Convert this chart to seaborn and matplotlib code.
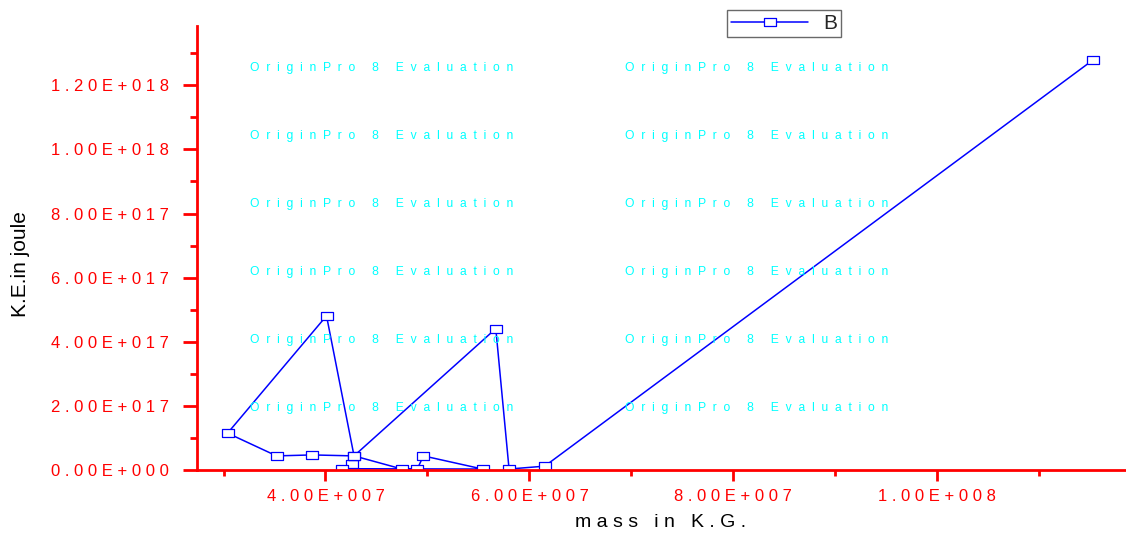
import matplotlib
matplotlib.use("Agg")
import matplotlib.pyplot as plt
import numpy as np
import pandas as pd
import seaborn as sns
from matplotlib.ticker import FuncFormatter, MultipleLocator


# points in the order they were joined in the original worksheet
MASS = [4.26e7, 4.16e7, 5.54e7, 4.96e7, 4.90e7, 4.75e7, 4.28e7, 3.87e7,
        3.52e7, 3.04e7, 4.01e7, 4.28e7, 5.67e7, 5.80e7, 6.15e7, 11.53e7]
KE = [0.19e17, 0.04e17, 0.03e17, 0.44e17, 0.03e17, 0.03e17, 0.44e17, 0.47e17,
      0.44e17, 1.15e17, 4.81e17, 0.44e17, 4.41e17, 0.03e17, 0.12e17, 12.80e17]
SERIES_NAME = "B"
X_LABEL = "m a s s   i n   K . G ."
Y_LABEL = "K.E.in joule"
WATERMARK = "O  r  i  g  i  n  P  r  o     8     E  v  a  l  u  a  t  i  o  n"

RED = "#FF0000"
BLUE = "#0000FF"
W, H = 1126, 539


def origin_sci(value: float, _: int) -> str:
    """Origin style scientific label, e.g. 1.20E+018, letter spaced."""
    if value == 0:
        text = "0.00E+000"
    else:
        exp = int(np.floor(np.log10(abs(value))))
        mant = value / 10 ** exp
        text = f"{mant:.2f}E{'+' if exp >= 0 else '-'}{abs(exp):03d}"
    return " ".join(text)


def main() -> None:
    sns.set_theme(style="white")
    plt.rcParams["font.family"] = ["Liberation Sans", "DejaVu Sans"]

    df = pd.DataFrame({"mass": MASS, "ke": KE})

    fig = plt.figure(figsize=(W / 100, H / 100), dpi=100)
    ax = fig.add_axes([197 / W, 1 - 470 / H, (1125 - 197) / W, (470 - 26) / H])

    for row in range(6):
        for col_x in (250, 625):
            fig.text(col_x / W, 1 - (68 + 68 * row) / H, WATERMARK,
                     color="#00FFFF", fontsize=8.7, va="center", ha="left", zorder=0)

    rect = [(-1, -0.6), (1, -0.6), (1, 0.6), (-1, 0.6), (-1, -0.6)]
    sns.lineplot(data=df, x="mass", y="ke", sort=False, estimator=None,
                 color=BLUE, linewidth=1.1, marker=rect, markersize=9,
                 markerfacecolor="white", markeredgecolor=BLUE,
                 markeredgewidth=0.9, label=SERIES_NAME, ax=ax)

    ax.set_xlim(2.74e7, 11.84e7)
    ax.set_ylim(0, 1.385e18)
    ax.patch.set_alpha(0)

    for side in ("top", "right"):
        ax.spines[side].set_visible(False)
    for side in ("left", "bottom"):
        ax.spines[side].set_color(RED)
        ax.spines[side].set_linewidth(2)

    ax.xaxis.set_major_locator(MultipleLocator(2e7))
    ax.xaxis.set_minor_locator(MultipleLocator(1e7))
    ax.yaxis.set_major_locator(MultipleLocator(2e17))
    ax.yaxis.set_minor_locator(MultipleLocator(1e17))
    ax.xaxis.set_major_formatter(FuncFormatter(origin_sci))
    ax.yaxis.set_major_formatter(FuncFormatter(origin_sci))
    ax.tick_params(axis="both", which="both", direction="out", color=RED,
                   labelcolor=RED, width=2, labelsize=12)
    ax.tick_params(axis="y", which="major", length=10, pad=10)
    ax.tick_params(axis="y", which="minor", length=5)
    ax.tick_params(axis="x", which="major", length=8, pad=6)
    ax.tick_params(axis="x", which="minor", length=4)
    ax.tick_params(left=True, bottom=True, which="both")

    ax.set_xlabel(X_LABEL, fontsize=14, color="black")
    ax.xaxis.set_label_coords(0.5, -(514 - 470) / 444)
    ax.set_ylabel(Y_LABEL, fontsize=15, color="black")
    ax.yaxis.set_label_coords(-(197 - 30) / 928, (470 - 264) / 444)

    leg = ax.legend(loc="upper left", bbox_to_anchor=(727 / W, 1 - 10 / H),
                    bbox_transform=fig.transFigure, borderaxespad=0,
                    frameon=True, fancybox=False, edgecolor="#444444",
                    fontsize=15, handlelength=3.7, numpoints=1,
                    borderpad=0.2, handletextpad=0.7)
    leg.get_frame().set_linewidth(1)

    fig.savefig("out.png", dpi=100)
    plt.close(fig)


if __name__ == "__main__":
    main()
